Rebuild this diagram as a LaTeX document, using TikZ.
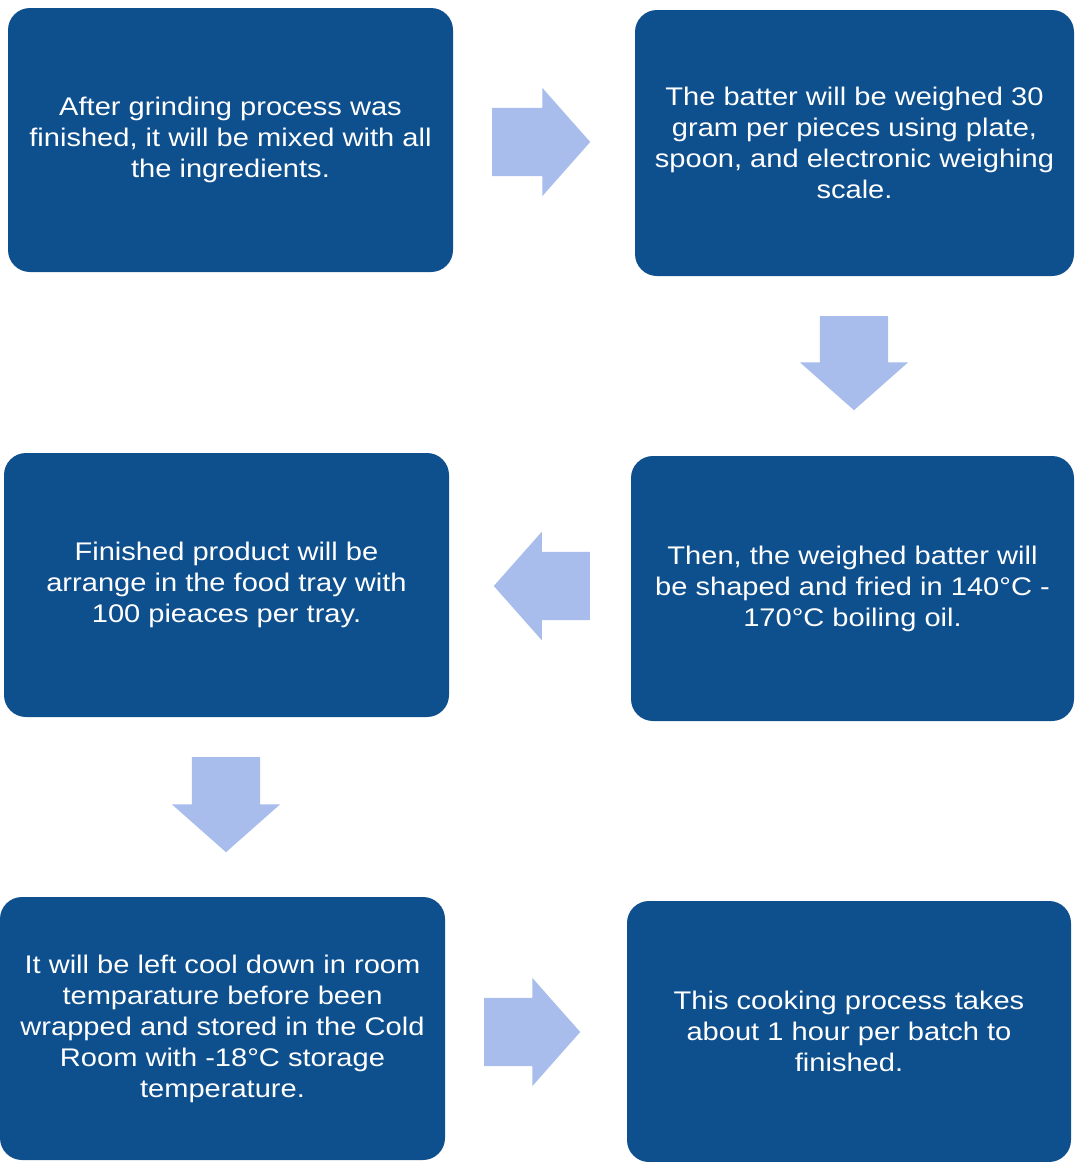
\documentclass[tikz,border=0pt]{standalone}
\usepackage{fontspec}
\setmainfont{Liberation Sans}[FakeStretch=1.14]
\usepackage{tikz}
\usetikzlibrary{shapes.arrows, positioning}
\definecolor{stepblue}{HTML}{0E4F8E}
\definecolor{arrowblue}{HTML}{A8BDEC}
\tikzset{
    stepbox/.style={fill=stepblue, rounded corners=22pt, text=white, align=center, inner sep=0pt,
        font=\fontsize{25.5pt}{31pt}\selectfont},
    flowarrow/.style={single arrow, fill=arrowblue, draw=none, inner sep=0pt,
        single arrow head extend=20pt, single arrow tip angle=97, minimum height=98pt, anchor=tail},
    across/.style={flowarrow, inner ysep=34pt},
    downward/.style={flowarrow, inner xsep=34pt, shape border rotate=270},
}

\begin{document}
\begin{tikzpicture}[x=1pt, y=-1pt]
\useasboundingbox (0,0) rectangle (1074,1162);

% process steps
\node[stepbox, minimum width=445pt, minimum height=264pt] (grind) at (230.5,140)
    {After grinding process was\\finished, it will be mixed with all\\the ingredients.};
\node[stepbox, minimum width=439pt, minimum height=266pt] (weigh) at (854.5,143)
    {The batter will be weighed 30\\gram per pieces using plate,\\spoon, and electronic weighing\\scale.};
\node[stepbox, minimum width=443pt, minimum height=265pt] (fry) at (852.5,588.5)
    {Then, the weighed batter will\\be shaped and fried in 140°C -\\170°C boiling oil.};
\node[stepbox, minimum width=445pt, minimum height=264pt] (tray) at (226.5,585)
    {Finished product will be\\arrange in the food tray with\\100 pieaces per tray.};
\node[stepbox, minimum width=445pt, minimum height=263pt] (cool) at (222.5,1028.5)
    {It will be left cool down in room\\temparature before been\\wrapped and stored in the Cold\\Room with -18°C storage\\temperature.};
\node[stepbox, minimum width=444pt, minimum height=261pt] (batch) at (849,1031.5)
    {This cooking process takes\\about 1 hour per batch to\\finished.};

% block arrows between the steps
\node[across] (a1) at (492,142) {};
\node[downward, minimum height=94pt] (a2) at (854,316) {};
\node[across, shape border rotate=180, minimum height=96pt] (a3) at (590,586) {};
\node[downward, minimum height=95pt] (a4) at (226,757) {};
\node[across, minimum height=96pt] (a5) at (484,1032) {};
\end{tikzpicture}
\end{document}
